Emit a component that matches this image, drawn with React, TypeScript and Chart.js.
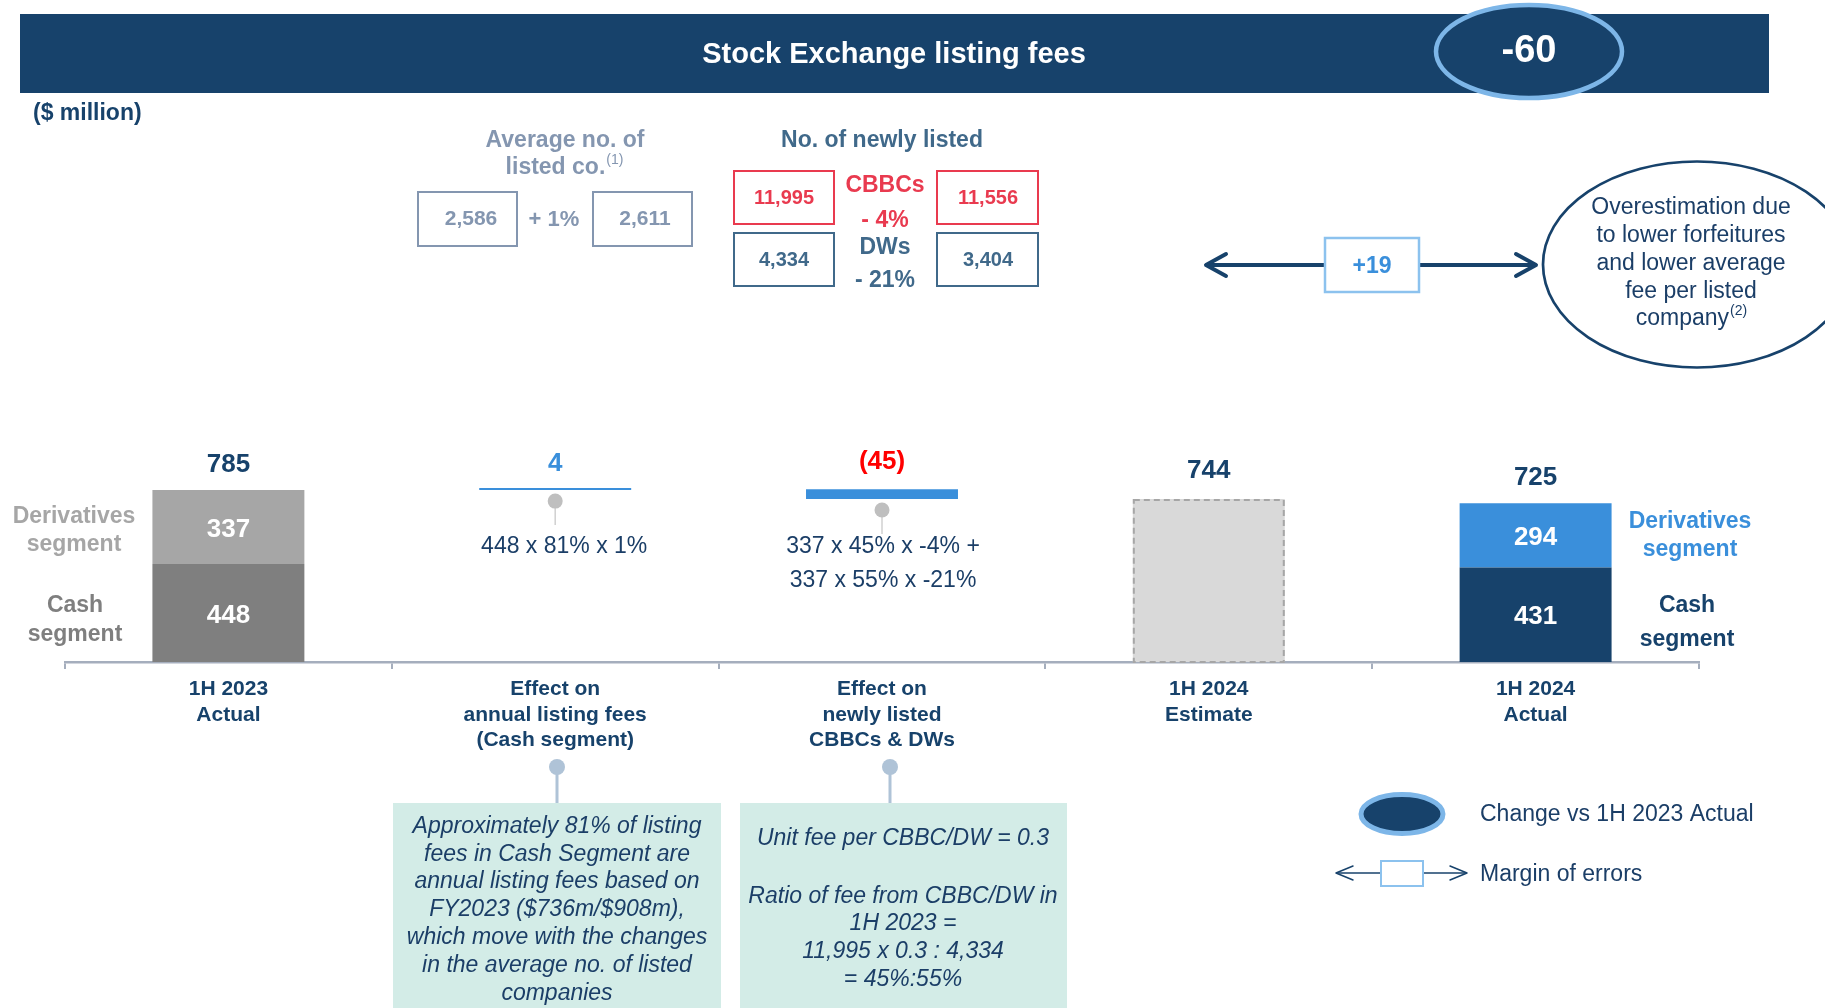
import React, { useEffect, useRef } from 'react';
import { Chart, registerables } from 'chart.js';

Chart.register(...registerables);

// ---------------- data ----------------
const categories: string[][] = [
  ['1H 2023', 'Actual'],
  ['Effect on', 'annual listing fees', '(Cash segment)'],
  ['Effect on', 'newly listed', 'CBBCs & DWs'],
  ['1H 2024', 'Estimate'],
  ['1H 2024', 'Actual'],
];
const cashSegment: (number | null)[] = [448, null, null, null, 431];
const derivativesSegment: (number | null)[] = [337, null, null, null, 294];
const effects: (number | null)[] = [null, 4, -45, null, null];
const estimate: (number | null)[] = [null, null, null, 744, null];

const headerChange = '-60';
const marginOfError = '+19';
const avgListedCo = ['2,586', '2,611'];
const avgListedChange = '+ 1%';
const cbbcCounts = ['11,995', '11,556'];
const cbbcChange = '- 4%';
const dwCounts = ['4,334', '3,404'];
const dwChange = '- 21%';
const effectFormulas: string[][] = [[], ['448 x 81% x 1%'], ['337 x 45% x -4% +', '337 x 55% x -21%'], [], []];
const note1 = [
  'Approximately 81% of listing',
  'fees in Cash Segment are',
  'annual listing fees based on',
  'FY2023 ($736m/$908m),',
  'which move with the changes',
  'in the average no. of listed',
  'companies',
];
const note2 = ['Unit fee per CBBC/DW = 0.3', '', 'Ratio of fee from CBBC/DW in', '1H 2023 =', '11,995 x 0.3 : 4,334', '= 45%:55%'];
const overestimationText = ['Overestimation due', 'to lower forfeitures', 'and lower average', 'fee per listed'];

// ---------------- derived ranges ----------------
const totals = cashSegment.map((c, i) => (c == null ? null : c + (derivativesSegment[i] ?? 0)));
const cashRanges = cashSegment.map((v) => (v == null ? null : [0, v]));
const derivRanges = derivativesSegment.map((v, i) => (v == null ? null : [cashSegment[i] as number, (cashSegment[i] as number) + v]));
let running = totals[0] as number;
const effectRanges = effects.map((v) => {
  if (v == null) return null;
  const r = [running, running + v];
  running += v;
  return r;
});
const estimateRanges = estimate.map((v) => (v == null ? null : [0, v]));

// ---------------- styles ----------------
const FONT = '"Liberation Sans", Arial, Helvetica, sans-serif';
const NAVY = '#17426B';
const TXT = '#1B3E67';
const BLUE = '#3A8FDB';
const RING = '#7DB6E8';
const BOXBLUE = '#8CC2EE';
const RED = '#E93A4F';
const PURE_RED = '#FF0000';
const SLATE = '#40698A';
const GRAYBLUE = '#8496B0';
const GRAY_DARK = '#7F7F7F';
const GRAY_LIGHT = '#A6A6A6';
const EST = '#D9D9D9';
const AXIS = '#A5AEBD';
const MINT = '#D3ECE7';
const PIN = '#AFC3D7';

function txt(ctx: CanvasRenderingContext2D, s: string, x: number, y: number, font: string, color: string, align: CanvasTextAlign = 'center') {
  ctx.font = font;
  ctx.fillStyle = color;
  ctx.textAlign = align;
  ctx.textBaseline = 'middle';
  ctx.fillText(s, x, y + 1.5);
}

function supLine(ctx: CanvasRenderingContext2D, main: string, sup: string, cx: number, cy: number, font: string, supFont: string, color: string) {
  ctx.font = font;
  const w1 = ctx.measureText(main).width;
  ctx.font = supFont;
  const w2 = ctx.measureText(sup).width;
  const x0 = cx - (w1 + w2) / 2;
  txt(ctx, main, x0, cy, font, color, 'left');
  txt(ctx, sup, x0 + w1 + 1, cy - 7, supFont, color, 'left');
}

function ellipse(ctx: CanvasRenderingContext2D, cx: number, cy: number, rx: number, ry: number, fill: string | null, stroke: string | null, lw: number) {
  ctx.beginPath();
  ctx.ellipse(cx, cy, rx, ry, 0, 0, Math.PI * 2);
  if (fill) {
    ctx.fillStyle = fill;
    ctx.fill();
  }
  if (stroke) {
    ctx.strokeStyle = stroke;
    ctx.lineWidth = lw;
    ctx.stroke();
  }
}

function line(ctx: CanvasRenderingContext2D, x1: number, y1: number, x2: number, y2: number, color: string, lw: number) {
  ctx.beginPath();
  ctx.moveTo(x1, y1);
  ctx.lineTo(x2, y2);
  ctx.strokeStyle = color;
  ctx.lineWidth = lw;
  ctx.stroke();
}

function chevron(ctx: CanvasRenderingContext2D, tipX: number, y: number, dx: number, dy: number, color: string, lw: number) {
  ctx.beginPath();
  ctx.moveTo(tipX + dx, y - dy);
  ctx.lineTo(tipX, y);
  ctx.lineTo(tipX + dx, y + dy);
  ctx.strokeStyle = color;
  ctx.lineWidth = lw;
  ctx.lineCap = 'round';
  ctx.lineJoin = 'round';
  ctx.stroke();
  ctx.lineCap = 'butt';
  ctx.lineJoin = 'miter';
}

function pin(ctx: CanvasRenderingContext2D, x: number, y: number, y2: number, color: string, stickColor: string, lw: number, r: number) {
  line(ctx, x, y, x, y2, stickColor, lw);
  ellipse(ctx, x, y, r, r, color, null, 0);
}

const overlayPlugin = {
  id: 'overlay',
  afterDatasetsDraw(chart: any) {
    const ctx: CanvasRenderingContext2D = chart.ctx;
    ctx.save();
    const B = (s: number) => `bold ${s}px ${FONT}`;
    const N = (s: number) => `${s}px ${FONT}`;
    const I = (s: number) => `italic ${s}px ${FONT}`;

    const cashMeta = chart.getDatasetMeta(0);
    const derivMeta = chart.getDatasetMeta(1);
    const effMeta = chart.getDatasetMeta(2);
    const estMeta = chart.getDatasetMeta(3);

    // estimate dashed border
    estimate.forEach((v, i) => {
      if (v == null) return;
      const el = estMeta.data[i];
      const top = Math.min(el.y, el.base);
      const bot = Math.max(el.y, el.base);
      ctx.setLineDash([6, 4]);
      ctx.strokeStyle = GRAY_LIGHT;
      ctx.lineWidth = 2;
      ctx.strokeRect(el.x - el.width / 2 + 1, top + 1, el.width - 2, bot - top - 1);
      ctx.setLineDash([]);
      txt(ctx, String(v), el.x, top - 30, B(26), NAVY);
    });

    // stacked bars: inside values & totals
    totals.forEach((t, i) => {
      if (t == null) return;
      const c = cashMeta.data[i];
      const d = derivMeta.data[i];
      txt(ctx, String(cashSegment[i]), c.x, (c.y + c.base) / 2 + 1, B(26), '#FFFFFF');
      txt(ctx, String(derivativesSegment[i]), d.x, (d.y + d.base) / 2 + 1, B(26), '#FFFFFF');
      txt(ctx, String(t), d.x, Math.min(d.y, d.base) - 27, B(26), NAVY);
    });

    // effects: labels, pins, formulas
    effects.forEach((v, i) => {
      if (v == null) return;
      const el = effMeta.data[i];
      const top = Math.min(el.y, el.base);
      const bot = Math.max(el.y, el.base);
      const label = v < 0 ? `(${Math.abs(v)})` : String(v);
      txt(ctx, label, el.x, top - (v < 0 ? 29 : 26), B(26), v < 0 ? PURE_RED : BLUE);
      pin(ctx, el.x, bot + 11, bot + 35, '#BFBFBF', '#D0D0D0', 1.5, 7.5);
      effectFormulas[i].forEach((s, k) => {
        txt(ctx, s, el.x + (i === 1 ? 9 : 1), 545 + k * 34, N(23), TXT);
      });
    });

    // segment side labels
    txt(ctx, 'Derivatives', 74, 515, B(23), GRAY_LIGHT);
    txt(ctx, 'segment', 74, 543, B(23), GRAY_LIGHT);
    txt(ctx, 'Cash', 75, 604, B(23), GRAY_DARK);
    txt(ctx, 'segment', 75, 633, B(23), GRAY_DARK);
    txt(ctx, 'Derivatives', 1690, 520, B(23), BLUE);
    txt(ctx, 'segment', 1690, 548, B(23), BLUE);
    txt(ctx, 'Cash', 1687, 604, B(23), NAVY);
    txt(ctx, 'segment', 1687, 638, B(23), NAVY);

    // header
    ctx.fillStyle = NAVY;
    ctx.fillRect(20, 14, 1749, 79);
    txt(ctx, 'Stock Exchange listing fees', 894, 53, B(29), '#FFFFFF');
    ellipse(ctx, 1529, 51.5, 93, 46.5, NAVY, RING, 4.5);
    txt(ctx, headerChange, 1529, 50, B(38), '#FFFFFF');
    txt(ctx, '($ million)', 33, 112, B(23), NAVY, 'left');

    // average listed companies
    txt(ctx, 'Average no. of', 565, 139, B(23), GRAYBLUE);
    supLine(ctx, 'listed co.', '(1)', 564, 166, B(23), N(14), GRAYBLUE);
    ctx.lineWidth = 2;
    ctx.strokeStyle = GRAYBLUE;
    ctx.strokeRect(418, 192, 99, 54);
    ctx.strokeRect(593, 192, 99, 54);
    txt(ctx, avgListedCo[0], 471, 218, B(21), GRAYBLUE);
    txt(ctx, avgListedCo[1], 645, 218, B(21), GRAYBLUE);
    txt(ctx, avgListedChange, 554, 218, B(22), GRAYBLUE);

    // newly listed
    txt(ctx, 'No. of newly listed', 882, 139, B(23), SLATE);
    ctx.strokeStyle = RED;
    ctx.strokeRect(734, 171, 100, 53);
    ctx.strokeRect(937, 171, 101, 53);
    ctx.strokeStyle = SLATE;
    ctx.strokeRect(734, 233, 100, 53);
    ctx.strokeRect(937, 233, 101, 53);
    txt(ctx, cbbcCounts[0], 784, 197, B(20), RED);
    txt(ctx, cbbcCounts[1], 988, 197, B(20), RED);
    txt(ctx, dwCounts[0], 784, 259, B(20), SLATE);
    txt(ctx, dwCounts[1], 988, 259, B(20), SLATE);
    txt(ctx, 'CBBCs', 885, 184, B(23), RED);
    txt(ctx, cbbcChange, 885, 219, B(23), RED);
    txt(ctx, 'DWs', 885, 246, B(23), SLATE);
    txt(ctx, dwChange, 885, 279, B(23), SLATE);

    // margin of error arrow
    line(ctx, 1207, 265, 1325, 265, NAVY, 4);
    line(ctx, 1419, 265, 1535, 265, NAVY, 4);
    chevron(ctx, 1206, 265, 20, 11, NAVY, 4);
    chevron(ctx, 1536, 265, -20, 11, NAVY, 4);
    ctx.lineWidth = 2.5;
    ctx.strokeStyle = BOXBLUE;
    ctx.fillStyle = '#FFFFFF';
    ctx.fillRect(1325, 238, 94, 54);
    ctx.strokeRect(1325, 238, 94, 54);
    txt(ctx, marginOfError, 1372, 265, B(23), BLUE);

    // overestimation ellipse
    ellipse(ctx, 1697, 264.5, 154, 103, null, NAVY, 2.7);
    overestimationText.forEach((s, k) => txt(ctx, s, 1691, 206 + k * 28.2, N(23), TXT));
    supLine(ctx, 'company', '(2)', 1691, 317, N(23), N(14), TXT);

    // bottom notes
    pin(ctx, 557, 767, 803, PIN, PIN, 3, 8);
    pin(ctx, 890, 767, 803, PIN, PIN, 3, 8);
    ctx.fillStyle = MINT;
    ctx.fillRect(393, 803, 328, 205);
    ctx.fillRect(740, 803, 327, 205);
    note1.forEach((s, k) => txt(ctx, s, 557, 825 + k * 27.8, I(23), TXT));
    const n2y = [837, 866, 895, 922, 950, 978];
    note2.forEach((s, k) => s && txt(ctx, s, 903, n2y[k], I(23), TXT));

    // legend
    ellipse(ctx, 1402, 814, 41, 19.5, NAVY, RING, 5);
    txt(ctx, 'Change vs 1H 2023 Actual', 1480, 813, N(23), TXT, 'left');
    line(ctx, 1337, 873, 1381, 873, NAVY, 1.5);
    line(ctx, 1423, 873, 1466, 873, NAVY, 1.5);
    chevron(ctx, 1336, 873, 17, 7, NAVY, 1.5);
    chevron(ctx, 1467, 873, -17, 7, NAVY, 1.5);
    ctx.lineWidth = 2;
    ctx.strokeStyle = BOXBLUE;
    ctx.strokeRect(1381, 861, 42, 25);
    txt(ctx, 'Margin of errors', 1480, 873, N(23), TXT, 'left');

    ctx.restore();
  },
};

export default function App() {
  const ref = useRef<HTMLCanvasElement | null>(null);
  useEffect(() => {
    if (!ref.current) return;
    const chart = new Chart(ref.current, {
      type: 'bar',
      data: {
        labels: categories as any,
        datasets: [
          {
            label: 'Cash segment',
            data: cashRanges as any,
            backgroundColor: [GRAY_DARK, GRAY_DARK, GRAY_DARK, GRAY_DARK, NAVY],
            grouped: false,
            borderWidth: 0,
          } as any,
          {
            label: 'Derivatives segment',
            data: derivRanges as any,
            backgroundColor: [GRAY_LIGHT, GRAY_LIGHT, GRAY_LIGHT, GRAY_LIGHT, BLUE],
            grouped: false,
            borderWidth: 0,
          } as any,
          {
            label: 'Effects',
            data: effectRanges as any,
            backgroundColor: BLUE,
            grouped: false,
            borderWidth: 0,
            minBarLength: 2,
          } as any,
          {
            label: '1H 2024 Estimate',
            data: estimateRanges as any,
            backgroundColor: EST,
            grouped: false,
            borderWidth: 0,
          } as any,
        ],
      },
      options: {
        responsive: false,
        devicePixelRatio: 1,
        animation: false,
        events: [],
        layout: { padding: { left: 65, right: 126, top: 443, bottom: 246 } },
        datasets: { bar: { barPercentage: 0.465, categoryPercentage: 1 } },
        plugins: { legend: { display: false }, tooltip: { enabled: false } },
        scales: {
          x: {
            offset: true,
            grid: { display: true, drawOnChartArea: false, drawTicks: true, tickLength: 7, color: AXIS, lineWidth: 2, offset: true },
            border: { display: true, color: AXIS, width: 2.5 },
            ticks: {
              color: NAVY,
              font: { family: FONT, size: 21, weight: 'bold', lineHeight: 1.2 },
              padding: 8,
              maxRotation: 0,
              autoSkip: false,
            },
            afterFit: (s: any) => {
              s.height = 100;
            },
          },
          y: { display: false, min: 0, max: 1000 },
        },
      } as any,
      plugins: [overlayPlugin],
    });
    return () => chart.destroy();
  }, []);
  return (
    <div style={{ position: 'absolute', left: 0, top: 0, width: 1825, height: 1008, background: '#FFFFFF', overflow: 'hidden' }}>
      <canvas ref={ref} width={1825} height={1008} style={{ display: 'block', width: 1825, height: 1008 }} />
    </div>
  );
}
